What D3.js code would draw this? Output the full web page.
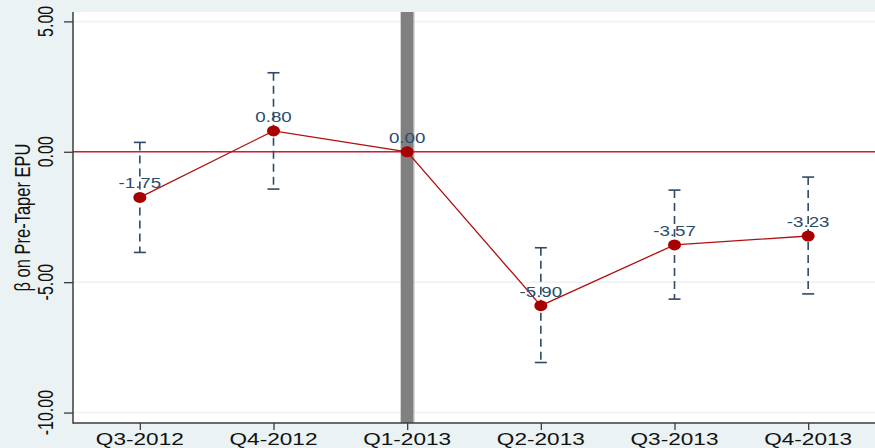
<!DOCTYPE html>
<html>
<head>
<meta charset="utf-8">
<script src="https://cdn.jsdelivr.net/npm/d3@7"></script>
<style>
  body { margin: 0; background: #eaf2f3; }
  svg { display: block; font-family: "Liberation Sans", Arial, sans-serif; }
</style>
</head>
<body>
<div id="chart"></div>
<script>
// data
var quarters = ["Q3-2012", "Q4-2012", "Q1-2013", "Q2-2013", "Q3-2013", "Q4-2013"];
var betas = [-1.75, 0.80, 0.00, -5.90, -3.57, -3.23];
var ciHigh = [0.36, 3.03, null, -3.68, -1.47, -0.97];
var ciLow = [-3.86, -1.43, null, -8.08, -5.65, -5.45];
var yTicks = [5, 0, -5, -10];
var eventQuarter = "Q1-2013";

var width = 875, height = 448;
var plotLeft = 73, plotRight = 875, plotTop = 12, plotBottom = 423;

var svg = d3.select("#chart").append("svg")
	.attr("width", width)
	.attr("height", height);

svg.append("rect")
	.attr("width", width).attr("height", height)
	.attr("fill", "#eaf2f3");

var x = d3.scalePoint()
	.domain(quarters)
	.range([plotLeft, plotRight])
	.padding(0.5);

var y = d3.scaleLinear()
	.domain([-10.4, 5.36])
	.range([plotBottom, plotTop]);

// plot region
svg.append("rect")
	.attr("x", plotLeft).attr("y", plotTop)
	.attr("width", plotRight - plotLeft).attr("height", plotBottom - plotTop)
	.attr("fill", "white");

// grid lines
svg.append("g")
	.selectAll("line")
	.data(yTicks)
	.join("line")
	.attr("x1", plotLeft).attr("x2", plotRight)
	.attr("y1", function(d) { return y(d); })
	.attr("y2", function(d) { return y(d); })
	.attr("stroke", "#eaf2f3")
	.attr("stroke-width", 1.5);

// event bar
svg.append("rect")
	.attr("x", x(eventQuarter) - 6.5)
	.attr("y", plotTop)
	.attr("width", 13)
	.attr("height", plotBottom - plotTop)
	.attr("fill", "#808080");
svg.append("line")
	.attr("x1", x(eventQuarter) + 7).attr("x2", x(eventQuarter) + 7)
	.attr("y1", plotTop).attr("y2", plotBottom)
	.attr("stroke", "#c8c8c8").attr("stroke-width", 1);

// zero line
svg.append("line")
	.attr("x1", plotLeft).attr("x2", plotRight)
	.attr("y1", y(0)).attr("y2", y(0))
	.attr("stroke", "#c8203c")
	.attr("stroke-width", 1.5);

// confidence intervals
var ci = quarters.map(function(q, i) {
	return {q: q, hi: ciHigh[i], lo: ciLow[i]};
}).filter(function(d) { return d.hi != null; });

var ciG = svg.append("g")
	.attr("stroke", "#2e4a66")
	.attr("stroke-width", 1.6)
	.attr("fill", "none");

ciG.selectAll("line.bar")
	.data(ci)
	.join("line")
	.classed("bar", true)
	.attr("x1", function(d) { return x(d.q); })
	.attr("x2", function(d) { return x(d.q); })
	.attr("y1", function(d) { return y(d.hi); })
	.attr("y2", function(d) { return y(d.lo); })
	.attr("stroke-dasharray", "8,5");

["hi", "lo"].forEach(function(k) {
	ciG.selectAll("line.cap" + k)
		.data(ci)
		.join("line")
		.classed("cap" + k, true)
		.attr("x1", function(d) { return x(d.q) - 6; })
		.attr("x2", function(d) { return x(d.q) + 6; })
		.attr("y1", function(d) { return y(d[k]); })
		.attr("y2", function(d) { return y(d[k]); });
});

// connecting line
var pts = quarters.map(function(q, i) { return {q: q, v: betas[i]}; });

svg.append("path")
	.datum(pts)
	.attr("fill", "none")
	.attr("stroke", "#b20f0f")
	.attr("stroke-width", 1.3)
	.attr("d", d3.line()
		.x(function(d) { return x(d.q); })
		.y(function(d) { return y(d.v); }));

svg.append("g")
	.selectAll("ellipse")
	.data(pts)
	.join("ellipse")
	.attr("cx", function(d) { return x(d.q); })
	.attr("cy", function(d) { return y(d.v); })
	.attr("rx", 6.5).attr("ry", 5.5)
	.attr("fill", "#a80000");

// value labels
svg.append("g")
	.selectAll("text")
	.data(pts)
	.join("text")
	.attr("transform", function(d) {
		return "translate(" + x(d.q) + "," + (y(d.v) - 9) + ") scale(1.25,1)";
	})
	.attr("text-anchor", "middle")
	.attr("font-size", 15)
	.attr("fill", "#2a4d6e")
	.text(function(d) { return d.v.toFixed(2); });

// axes
svg.append("g")
	.attr("transform", "translate(" + plotLeft + ",0)")
	.call(d3.axisLeft(y).tickValues(yTicks).tickSize(9).tickFormat(""));

svg.append("g")
	.attr("transform", "translate(0," + plotBottom + ")")
	.call(d3.axisBottom(x).tickSize(7).tickFormat(""));

svg.selectAll(".domain").remove();
svg.selectAll(".tick line").attr("stroke", "#3c3c3c").attr("stroke-width", 1.3);

svg.append("line")
	.attr("x1", plotLeft).attr("x2", plotLeft).attr("y1", plotTop).attr("y2", plotBottom + 0.7)
	.attr("stroke", "#3c3c3c").attr("stroke-width", 1.5);
svg.append("line")
	.attr("x1", plotLeft).attr("x2", plotRight).attr("y1", plotBottom).attr("y2", plotBottom)
	.attr("stroke", "#3c3c3c").attr("stroke-width", 1.5);

// y tick labels (rotated, stretched like the original)
svg.append("g")
	.selectAll("text")
	.data(yTicks)
	.join("text")
	.attr("transform", function(d) {
		return "translate(53," + y(d) + ") rotate(-90) scale(1,1.4)";
	})
	.attr("text-anchor", "middle")
	.attr("font-size", 16)
	.attr("fill", "#111")
	.text(function(d) { return d.toFixed(2); });

// x tick labels
svg.append("g")
	.selectAll("text")
	.data(quarters)
	.join("text")
	.attr("transform", function(d) {
		return "translate(" + x(d) + ",445) scale(1.33,1)";
	})
	.attr("text-anchor", "middle")
	.attr("font-size", 17)
	.attr("fill", "#111")
	.text(function(d) { return d; });

// y title
svg.append("text")
	.attr("transform", "translate(30," + ((plotTop + plotBottom) / 2) + ") rotate(-90) scale(1,1.35)")
	.attr("text-anchor", "middle")
	.attr("font-size", 16.5)
	.attr("fill", "#111")
	.text("β on Pre-Taper EPU");
</script>
</body>
</html>
